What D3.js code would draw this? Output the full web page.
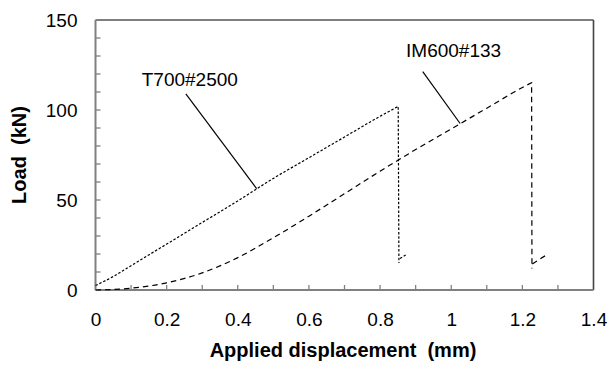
<!DOCTYPE html>
<html>
<head>
<meta charset="utf-8">
<script src="https://cdn.jsdelivr.net/npm/d3@7"></script>
<style>
  html, body { margin: 0; padding: 0; background: #fff; }
  svg { display: block; font-family: Arial, "Liberation Sans", sans-serif; }
  .tick-label { font-size: 19px; fill: #000; }
  .axis-title { font-size: 20px; font-weight: bold; fill: #000; white-space: pre; }
  .note { font-size: 19px; fill: #000; }
</style>
</head>
<body>
<svg id="chart" width="612" height="372"></svg>
<script>
/* ─── Data ───────────────────────────────────────────────────────────────── */

// T700#2500: displacement (mm) / load (kN); last point is the drop after failure
const t700X    = [0, 0.05, 0.1, 0.15, 0.2, 0.3, 0.4, 0.5, 0.6, 0.7, 0.8, 0.851, 0.853];
const t700Load = [2.5, 7.5, 13.5, 19.5, 25.5, 37.5, 49.5, 62, 73.5, 85, 96.5, 102, 15];
const t700TailX    = [0.856, 0.872];
const t700TailLoad = [17.5, 19.5];

// IM600#133
const im600X    = [0, 0.1, 0.2, 0.3, 0.4, 0.5, 0.6, 0.7, 0.8, 0.9, 1.0, 1.1, 1.2, 1.226, 1.227];
const im600Load = [0, 1, 4, 9.5, 18, 29, 41, 53.5, 66, 78, 89.5, 101, 112.5, 115.2, 12];
const im600TailX    = [1.228, 1.268];
const im600TailLoad = [14.5, 19.5];

const xTicks      = [0, 0.2, 0.4, 0.6, 0.8, 1, 1.2, 1.4];
const xMinorTicks = d3.range(1, 14).map(i => i / 10);
const yTicks      = [0, 50, 100, 150];
const yMinorTicks = d3.range(10, 150, 10);

// label text, text anchor (data), leader start and end (data)
const notes = [
  { text: 'T700#2500', tx: 0.13,  ty: 113.3, x1: 0.254, y1: 108.9, x2: 0.453, y2: 56.3 },
  { text: 'IM600#133', tx: 0.873, ty: 129.6, x1: 0.92,  y1: 121.3, x2: 1.025, y2: 92.5 },
];

/* ─── Layout ─────────────────────────────────────────────────────────────── */

const M = { left: 95.5, top: 20 };
const W = 498, H = 270;

const svg = d3.select('#chart');
const g = svg.append('g').attr('transform', `translate(${M.left},${M.top})`);

const x = d3.scaleLinear().domain([0, 1.4]).range([0, W]);
const y = d3.scaleLinear().domain([0, 150]).range([H, 0]);

/* ─── Minor ticks (inside) ───────────────────────────────────────────────── */

g.append('g').selectAll('line')
  .data(xMinorTicks)
  .join('line')
  .attr('x1', d => x(d)).attr('x2', d => x(d))
  .attr('y1', H).attr('y2', H - 5)
  .attr('stroke', '#808080').attr('stroke-width', 1.3);

g.append('g').selectAll('line')
  .data(yMinorTicks)
  .join('line')
  .attr('x1', 0).attr('x2', 5)
  .attr('y1', d => y(d)).attr('y2', d => y(d))
  .attr('stroke', '#808080').attr('stroke-width', 1.3);

/* ─── Frame ──────────────────────────────────────────────────────────────── */

g.append('line').attr('x1', 0).attr('x2', W).attr('y1', 0).attr('y2', 0)
  .attr('stroke', '#000').attr('stroke-width', 1.2);
g.append('line').attr('x1', W).attr('x2', W).attr('y1', 0).attr('y2', H)
  .attr('stroke', '#444').attr('stroke-width', 1.6);
g.append('line').attr('x1', 0).attr('x2', 0).attr('y1', 0).attr('y2', H)
  .attr('stroke', '#808080').attr('stroke-width', 2);
g.append('line').attr('x1', 0).attr('x2', W).attr('y1', H).attr('y2', H)
  .attr('stroke', '#808080').attr('stroke-width', 2);

/* ─── Tick labels ────────────────────────────────────────────────────────── */

const xAxis = g.append('g')
  .attr('transform', `translate(0,${H})`)
  .call(d3.axisBottom(x).tickValues(xTicks).tickSize(0).tickPadding(23).tickFormat(d3.format('')));
const yAxis = g.append('g')
  .call(d3.axisLeft(y).tickValues(yTicks).tickSize(0).tickPadding(18));

[xAxis, yAxis].forEach(a => {
  a.attr('font-family', null).attr('font-size', null);
  a.select('.domain').remove();
  a.selectAll('text').attr('class', 'tick-label');
});

/* ─── Axis titles ────────────────────────────────────────────────────────── */

svg.append('text')
  .attr('class', 'axis-title')
  .attr('x', 343).attr('y', 357)
  .attr('text-anchor', 'middle')
  .text('Applied displacement  (mm)');

svg.append('text')
  .attr('class', 'axis-title')
  .attr('transform', `translate(26,${M.top + H / 2}) rotate(-90)`)
  .attr('text-anchor', 'middle')
  .text('Load  (kN)');

/* ─── Curves ─────────────────────────────────────────────────────────────── */

const smooth = d3.line().x(d => x(d[0])).y(d => y(d[1])).curve(d3.curveMonotoneX);
const straight = d3.line().x(d => x(d[0])).y(d => y(d[1]));
const zip = (xs, ys) => xs.map((v, i) => [v, ys[i]]);

// rising part smoothed, the drop after the peak drawn straight
function loadPath(xs, ys) {
  const pts = zip(xs, ys);
  const drop = pts.pop();
  return smooth(pts) + `L${x(drop[0])},${y(drop[1])}`;
}

const series = [
  { d: loadPath(t700X, t700Load),                dash: '2.5,1.8' },
  { d: straight(zip(t700TailX, t700TailLoad)),   dash: '2.5,1.8' },
  { d: loadPath(im600X, im600Load),              dash: '5.5,4' },
  { d: straight(zip(im600TailX, im600TailLoad)), dash: '5.5,4' },
];

g.append('g').selectAll('path')
  .data(series)
  .join('path')
  .attr('d', d => d.d)
  .attr('fill', 'none')
  .attr('stroke', '#000')
  .attr('stroke-width', 1.2)
  .attr('stroke-dasharray', d => d.dash);

/* ─── Annotations ────────────────────────────────────────────────────────── */

const ann = g.append('g').selectAll('g').data(notes).join('g');
ann.append('line')
  .attr('x1', d => x(d.x1)).attr('y1', d => y(d.y1))
  .attr('x2', d => x(d.x2)).attr('y2', d => y(d.y2))
  .attr('stroke', '#000').attr('stroke-width', 1.2);
ann.append('text')
  .attr('class', 'note')
  .attr('x', d => x(d.tx)).attr('y', d => y(d.ty))
  .text(d => d.text);
</script>
</body>
</html>
